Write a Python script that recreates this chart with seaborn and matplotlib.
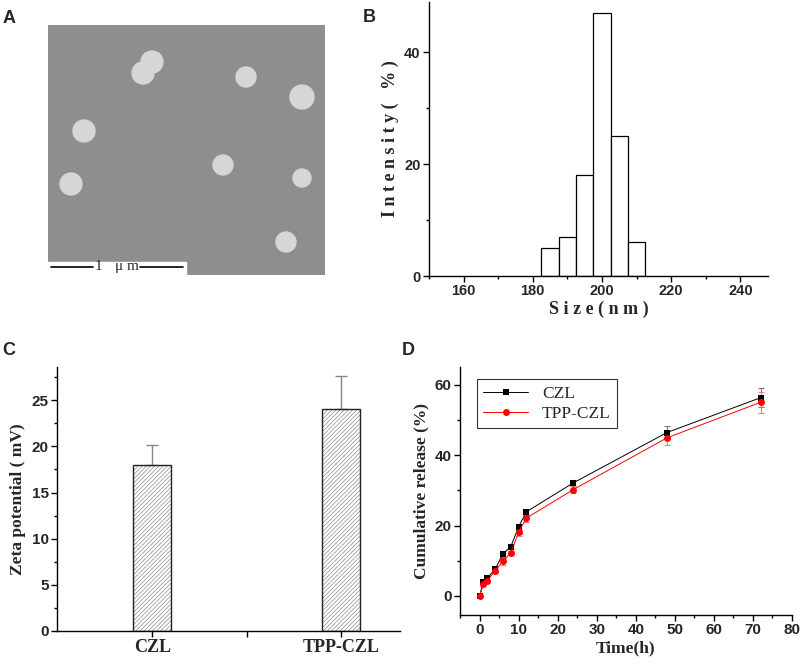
import numpy as np
import pandas as pd
import seaborn as sns
import matplotlib.pyplot as plt
from matplotlib.patches import Rectangle, Circle
from matplotlib.ticker import MultipleLocator

# ---- data ----
# panel A: particles seen in the TEM picture (x, y, radius in image px)
particle_x = [104, 95, 198, 254, 36, 175, 23, 254, 238]
particle_y = [37, 48, 52, 72, 106, 140, 159, 153, 217]
particle_r = [11, 11, 10, 12, 11, 10, 11, 9, 10]

# panel B: size distribution
size_bins = [182.5, 187.5, 192.5, 197.5, 202.5, 207.5, 212.5]
size_centers = [185, 190, 195, 200, 205, 210]
intensity = [5, 7, 18, 47, 25, 6]

# panel C: zeta potential
zeta_groups = ['CZL', 'TPP-CZL']
zeta_values = [18.0, 24.0]
zeta_err = [2.1, 3.6]

# panel D: release
time_h = [0, 1, 2, 4, 6, 8, 10, 12, 24, 48, 72]
czl_release = [0.0, 4.1, 5.1, 7.6, 12.0, 14.0, 19.6, 23.9, 32.1, 46.4, 56.3]
czl_err = [0.3, 0.5, 0.5, 0.6, 0.8, 0.6, 0.8, 0.8, 0.8, 1.8, 2.7]
tpp_release = [0.0, 3.3, 4.3, 7.2, 9.9, 12.2, 18.1, 22.1, 30.2, 44.9, 55.0]
tpp_err = [0.3, 0.6, 0.6, 0.7, 1.0, 0.6, 1.2, 1.2, 1.0, 2.0, 3.0]

sns.set_theme(style='ticks')
plt.rcParams['font.family'] = ['Liberation Sans', 'DejaVu Sans']
plt.rcParams['axes.linewidth'] = 1.0
plt.rcParams['xtick.direction'] = 'out'
plt.rcParams['ytick.direction'] = 'out'
plt.rcParams['hatch.linewidth'] = 0.5

W, H = 803, 665
fig = plt.figure(figsize=(W / 100, H / 100), dpi=100)


def px_axes(x0, y0, x1, y1):
    return fig.add_axes([x0 / W, 1 - y1 / H, (x1 - x0) / W, (y1 - y0) / H])


serif = ['Liberation Serif', 'DejaVu Serif']


def style_ticks(ax, size):
    ax.tick_params(axis='both', which='major', length=4, width=1, color='black',
                   labelsize=size, pad=2)
    ax.tick_params(axis='both', which='minor', length=2.5, width=1, color='black')
    for lab in ax.get_xticklabels() + ax.get_yticklabels():
        lab.set_fontweight('bold')
    for s in ['left', 'bottom']:
        ax.spines[s].set_color('black')
    sns.despine(ax=ax)


# ---- A: TEM picture ----
axA = px_axes(48, 25, 325, 275)
axA.set_xlim(0, 277)
axA.set_ylim(250, 0)
axA.add_patch(Rectangle((0, 0), 277, 250, color='#8e8e8e', zorder=0))
for x, y, r in zip(particle_x, particle_y, particle_r):
    axA.add_patch(Circle((x, y), r, color='#d6d6d6', zorder=1))
axA.add_patch(Rectangle((0, 237), 138, 14, color='white', zorder=2))
axA.plot([3, 45], [242, 242], color='black', lw=1.2, zorder=3)
axA.plot([92, 135], [242, 242], color='black', lw=1.2, zorder=3)
axA.text(50, 242, '1', family=serif, fontsize=11, ha='center', va='center', zorder=3)
axA.text(79, 242, 'μ m', family=serif, fontsize=11, ha='center', va='center', zorder=3)
axA.axis('off')

# ---- B: size distribution ----
axB = px_axes(429, 2, 768, 276)
sns.histplot(x=size_centers, weights=intensity, bins=size_bins, stat='count',
             color='white', edgecolor='black', linewidth=0.9, alpha=1, ax=axB)
axB.set_xlim(150, 248)
axB.set_ylim(0, 49)
axB.xaxis.set_major_locator(MultipleLocator(20))
axB.xaxis.set_minor_locator(MultipleLocator(10))
axB.yaxis.set_major_locator(MultipleLocator(20))
axB.yaxis.set_minor_locator(MultipleLocator(10))
style_ticks(axB, 10.5)
axB.set_xlabel('S i z e ( n m )', family=serif, weight='bold', fontsize=13, labelpad=2)
axB.set_ylabel('I n t e n s i t y (   % )', family=serif, weight='bold', fontsize=13, labelpad=4)

# ---- C: zeta potential ----
axC = px_axes(57, 367, 400, 631)
zeta_df = pd.DataFrame({'group': zeta_groups, 'zeta': zeta_values})
sns.barplot(data=zeta_df, x='group', y='zeta', order=zeta_groups, width=0.2,
            color='white', edgecolor='#8a8a8a', linewidth=0, errorbar=None, ax=axC)
for bar in list(axC.patches):
    bar.set_hatch('////////')
    bar.set_facecolor('white')
    # dark outline on top of the grey hatching
    axC.add_patch(Rectangle(bar.get_xy(), bar.get_width(), bar.get_height(),
                            fill=False, edgecolor='#222222', linewidth=1, zorder=3))
axC.errorbar(range(len(zeta_groups)), zeta_values, yerr=[[0, 0], zeta_err],
             fmt='none', ecolor='#888888', elinewidth=1, capsize=4, capthick=1)
axC.set_xlim(-0.503, 1.31)
axC.set_ylim(0, 28.6)
axC.yaxis.set_major_locator(MultipleLocator(5))
axC.yaxis.set_minor_locator(MultipleLocator(2.5))
axC.set_xticks([0, 0.5, 1])
axC.set_xticklabels(['CZL', '', 'TPP-CZL'])
style_ticks(axC, 11)
for lab in axC.get_xticklabels():
    lab.set_family(serif)
    lab.set_fontsize(13)
axC.set_xlabel('')
axC.set_ylabel('Zeta potential ( mV)', family=serif, weight='bold', fontsize=12.5, labelpad=4)

# ---- D: release ----
axD = px_axes(460, 367, 792, 615)
rel_df = pd.DataFrame({
    'time': time_h * 2,
    'release': czl_release + tpp_release,
    'sample': ['CZL'] * len(time_h) + ['TPP-CZL'] * len(time_h),
})
axD.errorbar(time_h, czl_release, yerr=czl_err, fmt='none', ecolor='#777777',
             elinewidth=0.8, capsize=2.5, capthick=0.8, zorder=2)
axD.errorbar(time_h, tpp_release, yerr=tpp_err, fmt='none', ecolor='#f08080',
             elinewidth=0.8, capsize=2.5, capthick=0.8, zorder=2)
sns.lineplot(data=rel_df, x='time', y='release', hue='sample', style='sample',
             palette={'CZL': 'black', 'TPP-CZL': 'red'},
             markers={'CZL': 's', 'TPP-CZL': 'o'}, dashes=False,
             markersize=5, markeredgewidth=0, linewidth=0.7, ax=axD, zorder=3)
axD.set_xlim(-5, 80)
axD.set_ylim(-5.4, 65)
axD.xaxis.set_major_locator(MultipleLocator(10))
axD.xaxis.set_minor_locator(MultipleLocator(5))
axD.yaxis.set_major_locator(MultipleLocator(20))
axD.yaxis.set_minor_locator(MultipleLocator(10))
style_ticks(axD, 11)
axD.set_xlabel('Time(h)', family=serif, weight='bold', fontsize=12.5, labelpad=2)
axD.set_ylabel('Cumulative release (%)', family=serif, weight='bold', fontsize=12.5, labelpad=4)
leg = axD.legend(loc='upper left', bbox_to_anchor=(0.025, 0.985), frameon=True,
                 fancybox=False, edgecolor='black', prop={'family': serif, 'size': 12.5},
                 handlelength=2.6, borderpad=0.35, labelspacing=0.25)
leg.get_frame().set_linewidth(0.8)

# ---- panel letters ----
for letter, x, y in [('A', 3, 23), ('B', 363, 22), ('C', 2, 355), ('D', 402, 355)]:
    fig.text(x / W, 1 - y / H, letter, fontsize=13, weight='bold',
             family=['Liberation Sans', 'DejaVu Sans'], ha='left', va='baseline')

fig.savefig('out.png', dpi=100)
